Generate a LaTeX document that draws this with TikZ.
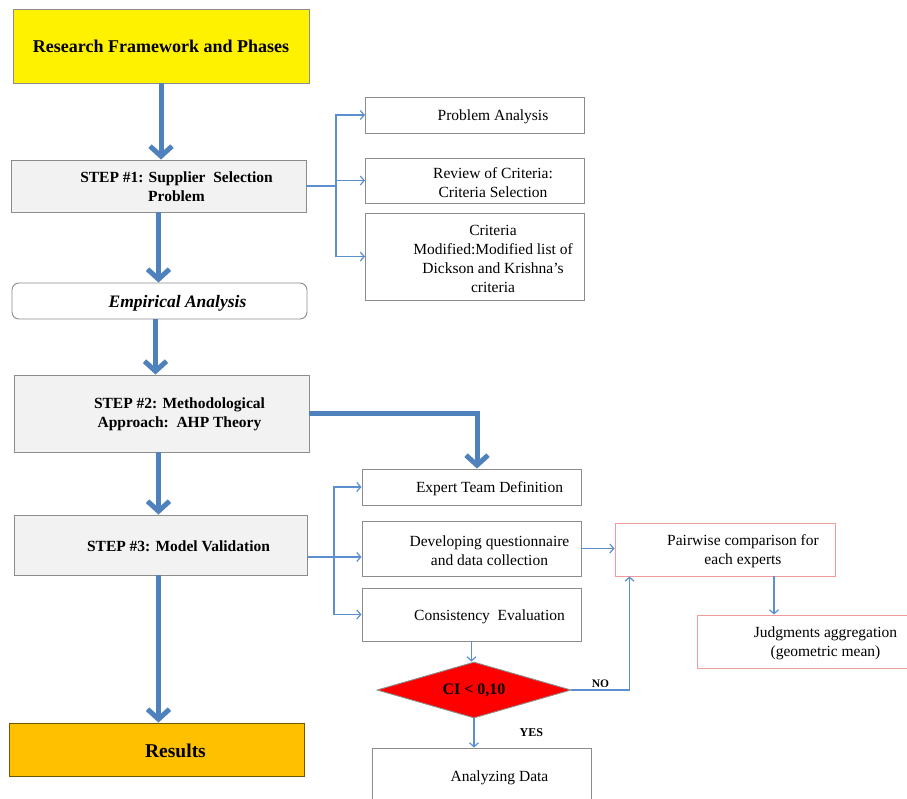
\documentclass[tikz,border=0pt]{standalone}
\usepackage{fontspec}
\setmainfont{Liberation Serif}
\usetikzlibrary{arrows.meta,shapes.geometric}
\definecolor{flowblue}{HTML}{4F81BD}
\definecolor{linkblue}{HTML}{5B8FD0}
\definecolor{stepgray}{HTML}{F2F2F2}
\definecolor{framegray}{HTML}{8C8C8C}
\definecolor{pinkline}{HTML}{F09A9A}
\definecolor{resultorange}{HTML}{FFC000}
\tikzset{
  flow/.style={draw=flowblue, line width=5pt, -{Straight Barb[length=10pt,width=22pt]}},
  link/.style={draw=linkblue, line width=1.2pt, -{Straight Barb[length=4pt,width=9pt]}},
  plain/.style={draw=framegray, line width=0.9pt, inner sep=0pt},
  stepbox/.style={plain, fill=stepgray, minimum width=295pt},
  taskbox/.style={plain, fill=white, minimum width=219pt},
  evalbox/.style={draw=pinkline, line width=0.9pt, inner sep=0pt, fill=white, minimum width=220pt, minimum height=53pt},
  boxtext/.style={xshift=18pt, yshift=-2pt, align=center, inner sep=0pt, font=\fontsize{15.5}{19}\selectfont},
  steptext/.style={boxtext, yshift=1pt, font=\fontsize{15.5}{19}\selectfont\bfseries}
}
\begin{document}
\begin{tikzpicture}[x=1pt,y=-1pt]
  \useasboundingbox (0,0) rectangle (907,798);
  \clip (0,0) rectangle (907,798);
  % left column
  \node[plain, fill=yellow, minimum width=296pt, minimum height=74pt, font=\fontsize{18}{22}\selectfont\bfseries] (title) at (161,46) {\raisebox{-1pt}{Research Framework and Phases}};
  \node[stepbox, minimum height=52pt, label={[steptext]center:{STEP \#1: Supplier~~Selection\\Problem}}] (step1) at (158.5,186) {};
  \node[plain, fill=white, rounded corners=7pt, minimum width=295pt, minimum height=36pt, label={[boxtext, font=\fontsize{17.5}{21}\selectfont\bfseries\itshape]center:{Empirical Analysis}}] (empirical) at (159.5,301) {};
  \node[stepbox, minimum height=77pt, label={[steptext]center:{STEP \#2: Methodological\\Approach:~~AHP Theory}}] (step2) at (161.5,413.5) {};
  \node[stepbox, minimum width=293pt, minimum height=60pt, label={[steptext]center:{STEP \#3: Model Validation}}] (step3) at (160.5,545) {};
  \node[plain, fill=resultorange, draw=resultorange!45!black, minimum width=295pt, minimum height=53pt, label={[steptext, xshift=1pt, font=\fontsize{19.5}{23}\selectfont\bfseries]center:{Results}}] (results) at (156.5,749.5) {};
  % step 1 tasks
  \node[taskbox, minimum height=36pt, label={[boxtext]center:{Problem Analysis}}] (probl) at (475,115) {};
  \node[taskbox, minimum height=45pt, label={[boxtext]center:{Review of Criteria:\\Criteria Selection}}] (review) at (475,180.5) {};
  \node[taskbox, minimum height=87pt, label={[boxtext]center:{Criteria\\Modified:Modified list of\\Dickson and Krishna’s\\criteria}}] (modif) at (475,256.5) {};
  % step 3 tasks
  \node[taskbox, minimum height=36pt, label={[boxtext]center:{Expert Team Definition}}] (expert) at (471.5,487) {};
  \node[taskbox, minimum height=55pt, label={[boxtext]center:{Developing questionnaire\\and data collection}}] (develop) at (471.5,548.5) {};
  \node[taskbox, minimum height=53pt, label={[boxtext]center:{Consistency~~Evaluation}}] (consist) at (471.5,614.5) {};
  \node[diamond, draw=framegray, fill=red, line width=0.9pt, inner sep=0pt, aspect=3.46, minimum width=194pt, minimum height=56pt, font=\fontsize{16}{19}\selectfont\bfseries] (ci) at (474,690) {CI < 0,10};
  \node[taskbox, minimum height=56pt, label={[boxtext]center:{Analyzing Data}}] (analyz) at (481.5,776) {};
  \node[evalbox, label={[boxtext]center:{Pairwise comparison for\\each experts}}] (pair) at (725,549.5) {};
  \node[evalbox, minimum width=221pt, label={[boxtext]center:{Judgments aggregation\\(geometric mean)}}] (judg) at (807.5,641.5) {};
  % main flow
  \draw[flow] (title.south) -- (title.south |- step1.north);
  \draw[flow] (step1.south) -- (step1.south |- empirical.north);
  \draw[flow] ([xshift=-4pt]empirical.south) -- ([xshift=-4pt]empirical.south |- step2.north);
  \draw[flow] ([xshift=-3pt]step2.south) -- ([xshift=-3pt]step2.south |- step3.north);
  \draw[flow] ([xshift=-2pt]step3.south) -- ([xshift=-2pt]step3.south |- results.north);
  \draw[flow] (step2.east) -| ([xshift=5.5pt]expert.north);
  % branches
  \coordinate (fork1) at (336,186);
  \draw[draw=linkblue, line width=1.2pt] (step1.east) -- (fork1);
  \foreach \t in {probl,review,modif} {
    \draw[link] (fork1) |- (\t.west);
  }
  \coordinate (fork3) at (334,557);
  \draw[draw=linkblue, line width=1.2pt] (step3.east |- fork3) -- (fork3);
  \foreach \t in {expert,consist} {
    \draw[link] (fork3) |- (\t.west);
  }
  \draw[link] (fork3) -- (fork3 -| develop.west);
  \draw[link] (develop.east) -- (develop.east -| pair.west);
  \draw[link] (consist.south) -- (consist.south |- ci.north);
  \draw[link] (ci.east) -| node[pos=0.25, above=2pt, inner sep=0pt, font=\fontsize{11.5}{13}\selectfont\bfseries] {NO} ([xshift=15pt]pair.south west);
  \draw[link] (ci.south) -- node[midway, anchor=west, inner sep=0pt, xshift=45pt, font=\fontsize{12}{14}\selectfont\bfseries] {YES} (ci.south |- analyz.north);
  \draw[link] ([xshift=49pt]pair.south) -- ([xshift=49pt]pair.south |- judg.north);
\end{tikzpicture}
\end{document}
